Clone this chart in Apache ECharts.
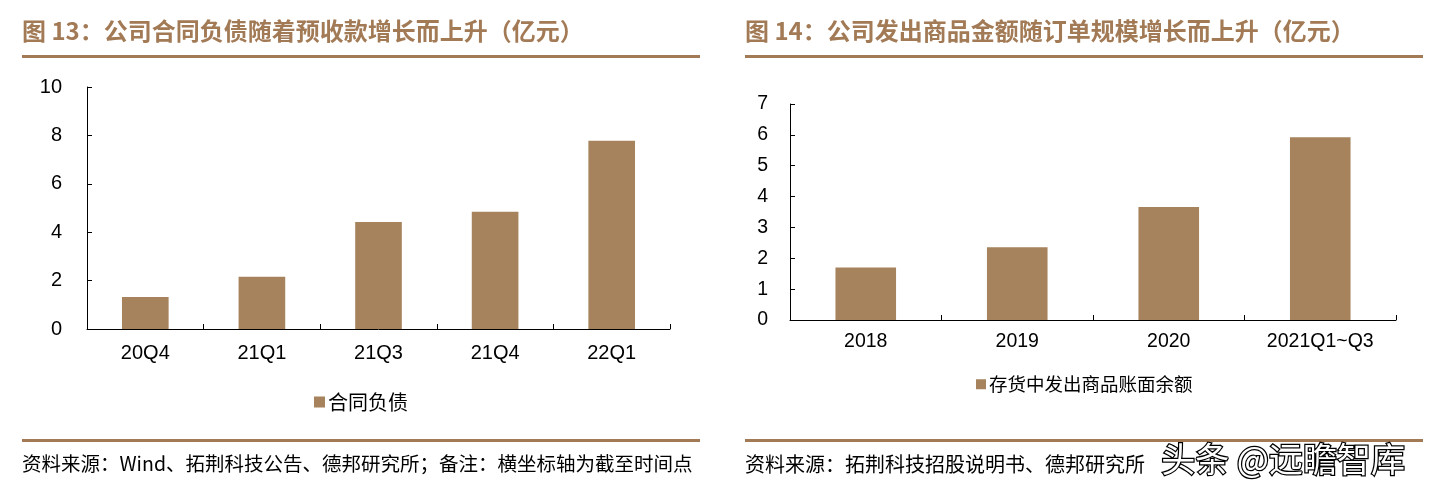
<!DOCTYPE html>
<html>
<head>
<meta charset="utf-8">
<script src="https://cdn.jsdelivr.net/npm/echarts@6/dist/echarts.min.js"></script>
<style>
html,body{margin:0;padding:0;background:#fff;}
#c{width:1443px;height:490px;}
</style>
</head>
<body>
<div id="c"></div>
<script>
// Chart 1 data
const cat1 = ['20Q4', '21Q1', '21Q3', '21Q4', '22Q1'];
const val1 = [1.32, 2.16, 4.42, 4.85, 7.78];
const series1Name = '合同负债';
const title1 = '图 13：公司合同负债随着预收款增长而上升（亿元）';
const source1 = '资料来源：Wind、拓荆科技公告、德邦研究所；备注：横坐标轴为截至时间点';

// Chart 2 data
const cat2 = ['2018', '2019', '2020', '2021Q1~Q3'];
const val2 = [1.70, 2.36, 3.66, 5.92];
const series2Name = '存货中发出商品账面余额';
const title2 = '图 14：公司发出商品金额随订单规模增长而上升（亿元）';
const source2 = '资料来源：拓荆科技招股说明书、德邦研究所';

const watermark = '头条 @远瞻智库';

const BAR = '#a6835d';
const BROWN = '#a27a55';
const CJK = '"Noto Sans CJK SC", sans-serif';
const LATIN = '"Liberation Sans", Arial, sans-serif';

const chart = echarts.init(document.getElementById('c'));

const axisLineStyle = { show: true, lineStyle: { color: '#000', width: 1 } };

chart.setOption({
  animation: false,
  backgroundColor: '#fff',
  grid: [
    { left: 87, top: 87, width: 583, height: 242, containLabel: false },
    { left: 790, top: 104, width: 606, height: 216, containLabel: false }
  ],
  xAxis: [
    {
      type: 'category', gridIndex: 0, data: cat1,
      axisLine: axisLineStyle,
      axisTick: { show: true, inside: true, length: 5, alignWithLabel: false, lineStyle: { color: '#000' } },
      axisLabel: { color: '#000', fontSize: 20, fontFamily: LATIN, margin: 14 }
    },
    {
      type: 'category', gridIndex: 1, data: cat2,
      axisLine: axisLineStyle,
      axisTick: { show: true, inside: true, length: 5, lineStyle: { color: '#000' } },
      axisLabel: { color: '#000', fontSize: 19.5, fontFamily: LATIN, margin: 12 }
    }
  ],
  yAxis: [
    {
      type: 'value', gridIndex: 0, min: 0, max: 10, interval: 2,
      axisLine: axisLineStyle,
      axisTick: { show: true, inside: true, length: 5, lineStyle: { color: '#000' } },
      splitLine: { show: false },
      axisLabel: { color: '#000', fontSize: 20, fontFamily: LATIN, margin: 25 }
    },
    {
      type: 'value', gridIndex: 1, min: 0, max: 7, interval: 1,
      axisLine: axisLineStyle,
      axisTick: { show: true, inside: true, length: 5, lineStyle: { color: '#000' } },
      splitLine: { show: false },
      axisLabel: { color: '#000', fontSize: 19.5, fontFamily: LATIN, margin: 22 }
    }
  ],
  legend: [
    {
      data: [series1Name], left: 314, top: 392, padding: 0,
      itemWidth: 11, itemHeight: 11, itemGap: 5, icon: 'rect',
      textStyle: { color: '#000', fontSize: 20, fontFamily: CJK, padding: [0, 0, 0, -2] }
    },
    {
      data: [series2Name], left: 976, top: 375, padding: 0,
      itemWidth: 10, itemHeight: 10, itemGap: 5, icon: 'rect',
      textStyle: { color: '#000', fontSize: 18.5, fontFamily: CJK, padding: [0, 0, 0, -2] }
    }
  ],
  series: [
    {
      name: series1Name, type: 'bar', xAxisIndex: 0, yAxisIndex: 0,
      data: val1, barCategoryGap: '60%', itemStyle: { color: BAR }
    },
    {
      name: series2Name, type: 'bar', xAxisIndex: 1, yAxisIndex: 1,
      data: val2, barCategoryGap: '60%', itemStyle: { color: BAR }
    }
  ],
  graphic: [
    { type: 'text', left: 22, top: 19, style: { text: title1, fill: BROWN, font: 'bold 24px ' + CJK } },
    { type: 'text', left: 745, top: 19, style: { text: title2, fill: BROWN, font: 'bold 24px ' + CJK } },
    { type: 'rect', shape: { x: 22, y: 55, width: 678, height: 3 }, style: { fill: BROWN } },
    { type: 'rect', shape: { x: 745, y: 55, width: 678, height: 3 }, style: { fill: BROWN } },
    { type: 'rect', shape: { x: 22, y: 439, width: 678, height: 3 }, style: { fill: BROWN } },
    { type: 'rect', shape: { x: 745, y: 439, width: 678, height: 3 }, style: { fill: BROWN } },
    { type: 'text', left: 22, top: 454, style: { text: source1, fill: '#000', font: '19.5px ' + CJK } },
    { type: 'text', left: 745, top: 454, style: { text: source2, fill: '#000', font: '20px ' + CJK } },
    { type: 'text', left: 1160, top: 441, z: 100, style: { text: watermark, fill: '#fff', stroke: '#000', lineWidth: 2.5, font: '34px ' + CJK } }
  ]
});
</script>
</body>
</html>
